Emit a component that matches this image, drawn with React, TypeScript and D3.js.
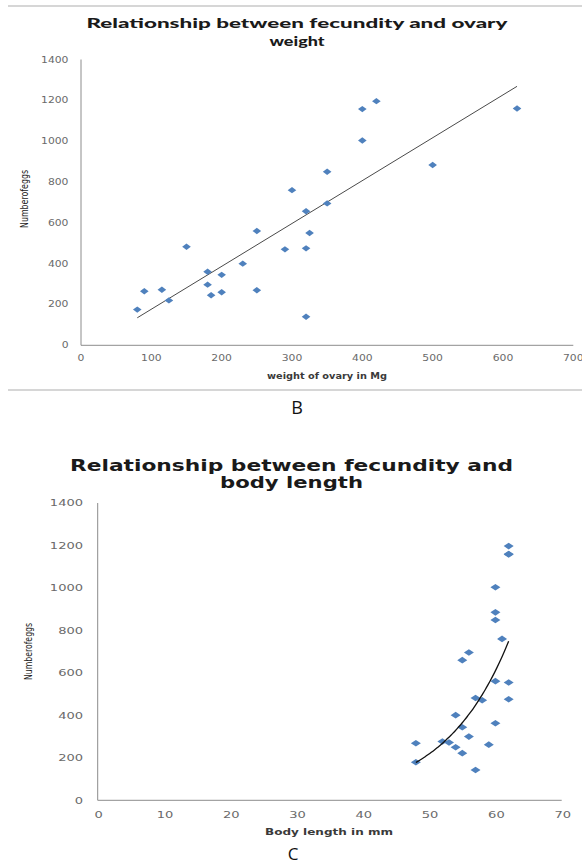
import React from "react";
import * as d3 from "d3";

// ---- Data ----
const ovaryWeight = [80, 90, 115, 125, 150, 180, 180, 185, 200, 200, 230, 250, 250, 290, 300, 320, 325, 320, 320, 350, 350, 400, 400, 420, 500, 620];
const eggsByWeight = [175, 265, 272, 220, 483, 360, 297, 245, 345, 260, 400, 560, 270, 470, 760, 657, 550, 475, 140, 850, 695, 1157, 1003, 1196, 883, 1160];

const bodyLength = [62, 62, 62, 60, 60, 60, 61, 56, 55, 60, 62, 57, 58, 62, 54, 60, 55, 56, 48, 52, 53, 54, 59, 55, 48, 57];
const eggsByLength = [1197, 1158, 1160, 1003, 885, 849, 760, 696, 660, 561, 555, 482, 471, 476, 401, 363, 344, 300, 269, 277, 272, 250, 262, 222, 179, 143];

const yTicks = [0, 200, 400, 600, 800, 1000, 1200, 1400];
const xTicksWeight = [0, 100, 200, 300, 400, 500, 600, 700];
const xTicksLength = [0, 10, 20, 30, 40, 50, 60, 70];

const titleB = ["Relationship between fecundity and ovary", "weight"];
const titleC = ["Relationship between fecundity and", "body length"];
const yLabel = "Numberofeggs";
const xLabelB = "weight of ovary in Mg";
const xLabelC = "Body length in mm";

const W = 582;
const H = 865;
const BLUE = "#4F81BD";
const AXIS = "#8c8c8c";
const TICK = "#6a6a6a";

function linFit(xs: number[], ys: number[]) {
  const mx = d3.mean(xs) as number;
  const my = d3.mean(ys) as number;
  let sxy = 0, sxx = 0;
  xs.forEach((x, i) => { sxy += (x - mx) * (ys[i] - my); sxx += (x - mx) ** 2; });
  const b = sxy / sxx;
  return { a: my - b * mx, b };
}

function diamond(cx: number, cy: number, w: number, h: number) {
  return `M${cx},${cy - h}L${cx + w},${cy}L${cx},${cy + h}L${cx - w},${cy}Z`;
}

function Tick({ x, y, anchor, size, sx, label }: { x: number; y: number; anchor: string; size: number; sx: number; label: number }) {
  return (
    <text transform={`translate(${x},${y}) scale(${sx},1)`} textAnchor={anchor} fontFamily="DejaVu Sans" fontSize={size} fill={TICK}>
      {label}
    </text>
  );
}

export default function App() {
  // ---- Chart B ----
  const xB = d3.scaleLinear().domain([0, 700]).range([81, 573.3]);
  const yB = d3.scaleLinear().domain([0, 1400]).range([345.3, 59.5]);
  const fitB = linFit(ovaryWeight, eggsByWeight);
  const [bx0, bx1] = d3.extent(ovaryWeight) as [number, number];
  const trendB = d3.line<number>().x((d) => xB(d)).y((d) => yB(fitB.a + fitB.b * d))([bx0, bx1]);

  // ---- Chart C ----
  const xC = d3.scaleLinear().domain([0, 70]).range([97.7, 561.7]);
  const yC = d3.scaleLinear().domain([0, 1400]).range([800.3, 503]);
  const fitC = linFit(bodyLength, eggsByLength.map((v) => Math.log(v)));
  const [cx0, cx1] = d3.extent(bodyLength) as [number, number];
  const samples = d3.range(0, 41).map((i) => cx0 + ((cx1 - cx0) * i) / 40);
  const trendC = d3
    .line<number>()
    .x((d) => xC(d))
    .y((d) => yC(Math.exp(fitC.a + fitC.b * d)))
    .curve(d3.curveMonotoneX)(samples);

  return (
    <svg width={W} height={H} style={{ position: "absolute", left: 0, top: 0, background: "#fff" }}>
      <rect x={0} y={0} width={W} height={H} fill="#fff" />
      {/* separator lines */}
      <line x1={8} x2={W} y1={6} y2={6} stroke="#c8c8c8" strokeWidth={1.5} />
      <line x1={8} x2={W} y1={390} y2={390} stroke="#c8c8c8" strokeWidth={1.5} />

      {/* ===== Chart B ===== */}
      {titleB.map((t, i) => (
        <text key={t} x={297} y={28 + i * 17.5} textAnchor="middle" fontFamily="Lato" fontWeight={900} fontSize={14} fill="#1a1a1a"
          textLength={i === 0 ? 421 : 55} lengthAdjust="spacingAndGlyphs">{t}</text>
      ))}
      <line x1={xB(0)} x2={xB(0)} y1={yB(1400)} y2={yB(0)} stroke={AXIS} strokeWidth={1} />
      <line x1={xB(0)} x2={xB(700)} y1={yB(0)} y2={yB(0)} stroke={AXIS} strokeWidth={1} />
      {yTicks.map((v) => (
        <Tick key={"by" + v} x={68.5} y={yB(v) + 3} anchor="end" size={8} sx={1.35} label={v} />
      ))}
      {xTicksWeight.map((v) => (
        <Tick key={"bx" + v} x={xB(v)} y={361} anchor="middle" size={8} sx={1.35} label={v} />
      ))}
      <text x={327} y={379} textAnchor="middle" fontFamily="DejaVu Sans" fontWeight={700} fontSize={8.5} fill="#3a3a3a"
        textLength={120} lengthAdjust="spacingAndGlyphs">{xLabelB}</text>
      <text transform={`translate(27.5,199) rotate(-90)`} textAnchor="middle" fontFamily="Liberation Sans Narrow, DejaVu Sans Condensed, sans-serif"
        fontSize={10} fill="#1a1a1a" textLength={58} lengthAdjust="spacingAndGlyphs">{yLabel}</text>
      <path d={trendB ?? ""} stroke="#4a4a4a" strokeWidth={1} fill="none" />
      {ovaryWeight.map((w, i) => (
        <path key={"pb" + i} d={diamond(xB(w), yB(eggsByWeight[i]), 4.3, 3.2)} fill={BLUE} />
      ))}
      <text x={297} y={414} textAnchor="middle" fontFamily="Open Sans" fontSize={18} fill="#111">B</text>

      {/* ===== Chart C ===== */}
      {titleC.map((t, i) => (
        <text key={t} x={291.5} y={470.7 + i * 17.7} textAnchor="middle" fontFamily="DejaVu Sans" fontWeight={700} fontSize={15.5} fill="#1a1a1a"
          textLength={i === 0 ? 443 : 143} lengthAdjust="spacingAndGlyphs">{t}</text>
      ))}
      <line x1={xC(0)} x2={xC(0)} y1={yC(1400)} y2={yC(0)} stroke={AXIS} strokeWidth={1} />
      <line x1={xC(0)} x2={xC(70)} y1={yC(0)} y2={yC(0)} stroke={AXIS} strokeWidth={1} />
      {yTicks.map((v) => (
        <Tick key={"cy" + v} x={83} y={yC(v) + 3.3} anchor="end" size={9} sx={1.45} label={v} />
      ))}
      {xTicksLength.map((v) => (
        <Tick key={"cx" + v} x={xC(v) + 1} y={817.5} anchor="middle" size={9} sx={1.45} label={v} />
      ))}
      <text x={329} y={835} textAnchor="middle" fontFamily="DejaVu Sans" fontWeight={700} fontSize={9} fill="#3a3a3a"
        textLength={128} lengthAdjust="spacingAndGlyphs">{xLabelC}</text>
      <text transform={`translate(32,651.5) rotate(-90)`} textAnchor="middle" fontFamily="Liberation Sans Narrow, DejaVu Sans Condensed, sans-serif"
        fontSize={10.5} fill="#1a1a1a" textLength={57} lengthAdjust="spacingAndGlyphs">{yLabel}</text>
      {bodyLength.map((l, i) => (
        <path key={"pc" + i} d={diamond(xC(l), yC(eggsByLength[i]), 5, 3.3)} fill={BLUE} />
      ))}
      <path d={trendC ?? ""} stroke="#111" strokeWidth={1.3} fill="none" />
      <text x={293} y={860} textAnchor="middle" fontFamily="Open Sans" fontSize={17} fill="#111">C</text>
    </svg>
  );
}
